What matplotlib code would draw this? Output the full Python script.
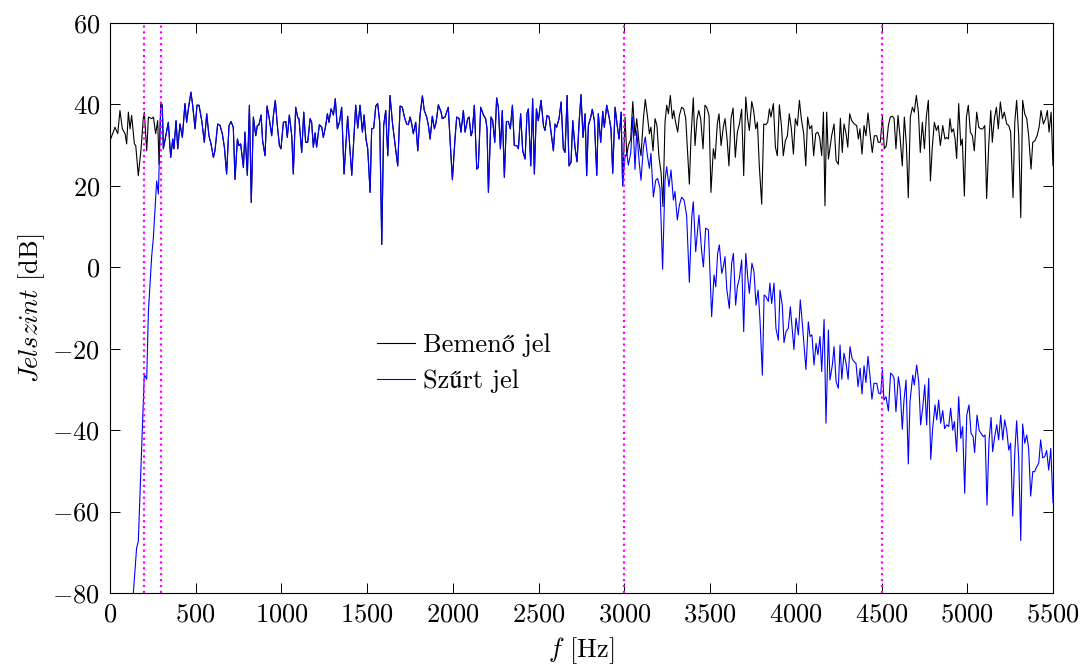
import matplotlib
matplotlib.use("Agg")
import matplotlib.pyplot as plt

plt.rcParams['font.family'] = ['cmr10', 'STIXGeneral']
plt.rcParams['mathtext.fontset'] = 'cm'
plt.rcParams['axes.formatter.use_mathtext'] = True
plt.rcParams['font.size'] = 19

# bemeno jel, also sav (0 - 305 Hz)
f_also_be = [0, 19, 29, 45, 58, 72, 88, 97, 107, 117, 126, 142, 150, 165, 181, 194, 200, 214, 224,
             243, 253, 266, 278, 286, 296, 305]
jel_also_be = [31.1, 33.2, 34.4, 32.8, 38.5, 34.0, 32.8, 30.3, 38.1, 34.0, 37.3, 30.3, 29.9, 22.5,
               29.1, 36.5, 38.1, 28.6, 36.9, 36.5, 36.9, 32.8, 36.0, 25.3, 40.6, 39.8]

# szurt jel, also sav
f_also_sz = [0, 120, 136, 155, 165, 200, 214, 224, 243, 253, 272, 282, 296, 305]
jel_also_sz = [-100, -90, -80, -69.0, -67.3, -26.3, -27.5, -10.7, 2.7, 7.3, 21.2, 18.0, 39.3, 39.8]

# attereszto sav: a ket jel egybeesik (311 - 2990 Hz)
f_kozos = [311, 325, 340, 354, 366, 373, 385, 395, 408, 422, 437, 447, 457, 472, 482, 496, 507, 519,
           535, 550, 564, 577, 589, 603, 612, 628, 642, 655, 667,
           680, 694, 706, 719, 729, 743, 752, 762, 778, 787, 801, 813, 824, 836, 850, 859, 869, 881,
           890, 904, 916, 929, 943, 953, 964, 976, 988, 997, 1011, 1025, 1034, 1046, 1060, 1069,
           1083, 1095, 1102, 1118, 1130, 1141, 1153, 1167, 1176, 1186, 1196, 1205, 1221, 1235, 1244,
           1258, 1268, 1277, 1289, 1303, 1314, 1326, 1338, 1351, 1365,
           1386, 1410, 1433, 1445, 1458, 1472, 1482, 1493, 1503, 1517, 1526, 1538, 1550, 1561, 1573,
           1585, 1596, 1608, 1620, 1633, 1647, 1662, 1678, 1692, 1705, 1717, 1730, 1740, 1750, 1760,
           1769, 1783, 1795, 1808, 1822, 1833, 1847, 1857, 1867, 1880, 1892, 1902, 1915, 1931, 1938,
           1954, 1973, 1983, 1997, 2012, 2022, 2036, 2047, 2061,
           2071, 2086, 2094, 2106, 2113, 2125, 2139, 2148, 2162, 2178, 2191, 2199, 2207, 2222, 2232,
           2244, 2255, 2265, 2277, 2288, 2300, 2312, 2323, 2335, 2347, 2358, 2372, 2382, 2395, 2407,
           2421, 2432, 2440, 2454, 2465, 2475, 2487, 2498, 2514, 2528, 2537, 2549, 2561, 2572, 2586,
           2596, 2605, 2619, 2631, 2644, 2654, 2666, 2677, 2689, 2699, 2712, 2724, 2736, 2747, 2759,
           2771, 2780, 2790, 2804, 2813, 2825, 2839, 2848, 2862, 2874, 2883, 2897, 2911, 2922, 2932,
           2946, 2957, 2969, 2981, 2990]
jel_kozos = [29.1, 32.3, 35.6, 27.0, 31.5, 29.1, 36.0, 29.1, 35.2, 31.9, 40.2, 35.6, 38.9, 43.0,
             39.8, 34.0, 39.8, 39.8, 36.0, 30.7, 37.7, 32.3, 30.3, 27.0, 28.6, 35.2, 34.8, 32.8, 29.5,
             22.9, 34.8, 35.8, 34.4, 21.6, 31.5, 29.9, 30.3, 24.5, 33.2, 22.6, 39.8, 15.9, 36.9, 32.3,
             34.8, 35.0, 37.4, 31.1, 27.4, 39.6, 36.5, 32.3, 37.3, 41.0, 34.8, 29.9, 29.1, 35.6, 35.8,
             31.9, 37.4, 32.3, 22.9, 39.3, 36.7, 36.5, 28.2, 38.1, 30.7, 30.7, 36.5, 35.6, 29.5, 33.0,
             29.5, 35.0, 34.4, 31.9, 34.8, 37.7, 35.6, 38.9, 37.4, 41.4, 34.0, 35.6, 39.3, 22.9,
             37.1, 22.6, 39.8, 34.2, 39.8, 33.2, 37.4, 31.5, 29.1, 18.4, 34.0, 34.2, 39.6, 40.2, 35.6,
             5.6, 34.8, 38.5, 27.4, 42.2, 35.6, 30.3, 24.9, 39.6, 39.3, 36.9, 35.2, 35.0, 36.9, 35.2,
             32.8, 35.6, 28.6, 37.3, 42.1, 38.5, 36.9, 34.8, 31.5, 37.1, 34.0, 35.6, 39.9, 38.1, 36.5,
             36.9, 39.3, 31.5, 21.5, 31.5, 36.9, 36.5, 33.2, 38.5,
             33.2, 36.5, 36.9, 32.3, 33.3, 39.8, 24.1, 24.5, 39.3, 37.4, 36.5, 34.0, 18.4, 36.9, 36.0,
             30.7, 41.6, 39.3, 29.1, 38.5, 22.1, 35.8, 35.8, 34.0, 39.8, 29.9, 29.9, 29.1, 37.7, 28.6,
             26.6, 37.7, 38.9, 24.9, 41.4, 22.9, 38.9, 36.0, 41.0, 34.8, 33.6, 37.3, 36.9, 33.2, 28.6,
             35.2, 34.4, 36.5, 40.6, 29.1, 28.2, 42.2, 24.9, 25.8, 36.0, 29.5, 25.9, 35.6, 42.4, 31.9,
             37.7, 22.5, 34.8, 36.9, 38.8, 36.0, 22.6, 37.7, 30.7, 38.3, 34.4, 39.8, 36.9, 34.0, 23.1,
             39.3, 35.2, 31.5, 38.1, 20.0]

# bemeno jel, felso sav (3004 - 5500 Hz)
f_felso_be = [3004, 3014, 3023, 3037, 3049, 3062, 3072, 3086, 3097, 3111, 3122, 3134, 3146, 3155,
              3167, 3179, 3190, 3202, 3214, 3225, 3237, 3247, 3257, 3268, 3280, 3288, 3299, 3311,
              3321, 3334, 3346, 3358, 3369, 3379, 3389, 3402, 3412, 3424, 3434, 3445, 3459, 3470,
              3480, 3494, 3505, 3519, 3529, 3542, 3552, 3564, 3577, 3587, 3599, 3610, 3622, 3634,
              3647, 3659, 3671, 3684, 3696, 3708, 3719, 3729, 3743, 3754, 3766, 3776, 3787, 3801,
              3813, 3824, 3836, 3846, 3855, 3869, 3881, 3892, 3904, 3916, 3927, 3939, 3951, 3962,
              3974, 3986, 3997, 4009, 4021, 4032, 4046, 4058, 4069, 4081, 4093, 4104, 4116, 4128,
              4139, 4151, 4161,
              4170, 4180, 4190, 4200, 4209, 4223, 4235, 4248, 4260, 4271, 4281, 4293, 4303, 4314,
              4326, 4341, 4355, 4365, 4374, 4386, 4398, 4409, 4421, 4433, 4446, 4458, 4472, 4481,
              4493, 4505, 4516, 4528, 4540, 4551, 4563, 4573, 4584, 4596, 4608, 4621, 4633, 4645,
              4656, 4668, 4680, 4691, 4703, 4715, 4726, 4738, 4750, 4761, 4773, 4785, 4796, 4808,
              4820, 4831, 4843, 4857, 4870,
              4880, 4890, 4899, 4909, 4919, 4929, 4938, 4950, 4962, 4971, 4983, 4995, 5006, 5018,
              5030, 5041, 5055, 5067, 5078, 5090, 5102, 5113, 5125, 5137, 5146, 5158, 5170, 5181,
              5193, 5205, 5216, 5230, 5242, 5253, 5267, 5277, 5288, 5300, 5312, 5323, 5335, 5347,
              5358, 5372, 5382, 5395, 5407, 5419, 5430, 5444, 5457, 5467, 5477, 5489, 5500]
jel_felso_be = [36.9, 27.4, 29.9, 31.5, 40.7, 32.3, 36.5, 30.3, 27.4, 36.5, 41.2, 37.3, 32.8, 34.4,
                28.6, 36.5, 34.8, 27.0, 23.3, 14.9, 35.6, 39.8, 37.7, 42.2, 36.5, 38.5, 35.6, 33.2,
                37.3, 39.3, 38.9, 36.5, 28.2, 20.4, 32.3, 41.6, 29.9, 36.5, 38.5, 36.5, 29.1, 39.8,
                39.3, 37.3, 18.4, 29.1, 26.6, 35.2, 37.7, 29.9, 34.4, 36.5, 31.5, 24.9, 36.5, 39.1,
                27.0, 33.2, 35.2, 38.8, 22.5, 41.8, 36.5, 33.6, 40.7, 38.5, 34.0, 35.6, 24.9, 15.5,
                35.2, 35.0, 35.6, 38.9, 36.9, 40.2, 29.5, 27.4, 39.9, 34.8, 27.4, 31.1, 32.3, 37.7,
                34.0, 27.8, 36.5, 34.8, 41.0, 36.5, 32.8, 24.9, 36.9, 34.0, 34.8, 27.4, 32.8, 33.2,
                31.9, 27.4, 38.1,
                15.1, 38.1, 26.6, 29.5, 32.3, 35.2, 26.2, 25.3, 36.6, 28.2, 35.2, 32.8, 29.5, 37.7,
                36.0, 35.2, 34.8, 31.5, 34.0, 27.8, 34.8, 32.3, 37.9, 32.8, 28.2, 32.3, 32.3, 30.7,
                30.7, 37.1, 29.1, 29.9, 34.8, 36.9, 37.1, 36.5, 29.1, 37.3, 31.9, 24.9, 36.9, 29.9,
                17.1, 36.9, 39.3, 38.1, 42.2, 38.1, 28.2, 35.6, 29.1, 36.9, 41.0, 21.2, 29.5, 35.6,
                33.6, 34.8, 29.9, 34.8, 31.5,
                31.9, 31.5, 36.5, 33.2, 34.0, 31.5, 26.7, 40.2, 29.9, 31.5, 17.5, 36.9, 39.8, 33.2,
                32.3, 28.6, 38.1, 34.4, 34.0, 34.0, 34.8, 16.9, 29.9, 38.5, 30.7, 36.5, 39.3, 34.0,
                40.6, 36.5, 38.1, 35.2, 34.8, 33.2, 17.1, 35.6, 41.0, 32.3, 12.2, 41.0, 37.7, 36.5,
                32.3, 24.1, 30.7, 31.1, 32.3, 34.4, 38.5, 35.2, 36.5, 38.5, 33.2, 38.1, 24.9]

# szurt jel, felso sav
f_felso_sz = [3004, 3014, 3023, 3037, 3049, 3062, 3072, 3086, 3097, 3111, 3122, 3134, 3146, 3155,
              3169, 3183, 3194, 3208, 3223, 3237, 3247, 3260, 3272, 3286, 3295, 3309, 3321, 3334,
              3348, 3363, 3379, 3393, 3402, 3416, 3435, 3451, 3461, 3474, 3490, 3509, 3523, 3533,
              3544, 3554, 3568, 3577, 3587, 3597, 3612, 3626, 3636, 3649, 3659, 3671, 3684, 3696,
              3708, 3719, 3729, 3744, 3756, 3768, 3780, 3791, 3805, 3815, 3826, 3840, 3849, 3859,
              3873, 3884, 3898, 3908, 3921, 3931, 3943, 3956, 3968, 3978, 3989, 4001, 4015, 4026,
              4038, 4050, 4059, 4073, 4083, 4094, 4106, 4118, 4129, 4141, 4151, 4165, 4176, 4190,
              4199, 4213, 4223, 4235, 4248, 4258,
              4268, 4281, 4293, 4305, 4316, 4328, 4340, 4351, 4363, 4375, 4386, 4398, 4409, 4421,
              4433, 4444, 4456, 4472, 4483, 4495, 4505, 4514, 4526, 4540, 4553, 4565, 4573, 4584,
              4598, 4608, 4621, 4631, 4643, 4656, 4666, 4682, 4691, 4705, 4717, 4728, 4740, 4752,
              4763, 4775, 4787, 4798, 4812, 4822, 4833, 4845, 4857, 4868, 4880, 4892, 4903, 4915,
              4925, 4938, 4950, 4962, 4973, 4985, 4997, 5010, 5022, 5034, 5043, 5057, 5069, 5080,
              5094, 5104, 5115, 5127, 5139, 5148, 5160, 5172, 5183, 5195, 5207, 5218, 5230, 5242,
              5253, 5265, 5277, 5288, 5300, 5312, 5323, 5335, 5347, 5358, 5370, 5382, 5393, 5405,
              5417, 5428, 5440, 5452, 5463, 5475, 5487, 5500]
jel_felso_sz = [27.2, 28.0, 25.1, 28.0, 37.0, 24.0, 33.5, 26.0, 21.4, 29.5, 32.0, 27.5, 24.3, 28.0,
                17.3, 21.4, 21.8, 19.4, -0.5, 21.4, 24.7, 19.8, 23.9, 16.5, 18.6, 11.6, 15.3, 17.2,
                16.5, 12.8, -3.7, 12.4, 16.1, 3.8, 12.8, 3.8, 0.1, 9.6, 9.2, -12.1, -1.9, -4.8,
                3.4, 5.5, -1.5, 0.1, 2.6, -5.2, -10.1, 1.0, 3.4, -9.3, -4.8, -2.7, 1.8, -15.8,
                3.4, -2.3, -6.4, 1.0, -1.1, -9.3, -5.6, -12.9, -26.5, -6.8, -7.2, -8.4, -3.9, -8.9,
                -3.9, -15.0, -17.9, -5.6, -9.3, -18.5, -15.8, -15.0, -9.7, -14.6, -20.2, -12.5,
                -16.6, -8.0, -13.8, -20.3, -25.1, -13.4, -17.0, -16.6, -24.0, -18.7, -21.5, -17.0,
                -25.6, -12.8, -38.3, -15.4, -27.7, -24.0, -19.5, -28.1, -29.7, -19.1,
                -27.5, -21.1, -23.6, -27.5, -19.5, -22.4, -23.2, -23.6, -29.3, -24.8, -31.1, -24.2,
                -28.3, -21.9, -26.9, -32.4, -28.5, -28.5, -30.9, -31.1, -25.2, -32.6, -31.8, -35.3,
                -26.0, -26.5, -27.3, -35.5, -26.9, -29.7, -39.8, -32.6, -27.7, -48.3, -33.0, -26.5,
                -28.9, -24.0, -28.1, -38.7, -34.6, -28.9, -38.7, -27.3, -47.2, -39.6, -33.8, -37.5,
                -32.6, -38.3, -35.2, -39.6, -38.7, -39.1, -34.6, -40.0, -37.9, -45.3, -31.8, -42.0,
                -39.1, -55.5, -36.3, -33.8, -40.8, -41.6, -45.5, -36.3, -40.0, -40.8, -41.6, -41.2,
                -58.4, -42.4, -36.9, -45.3, -41.6, -38.7, -42.4, -36.3, -42.4, -37.5, -40.0, -44.9,
                -43.2, -61.1, -45.7, -37.7, -46.9, -67.1, -38.5, -43.2, -41.2, -44.5, -56.2, -50.2,
                -50.2, -49.0, -48.1, -42.4, -46.8, -46.5, -45.0, -49.8, -44.5, -57.8]

# sav hatarok
hatarok = [200, 300, 3000, 4500]

f_be = f_also_be + f_kozos + f_felso_be
jel_be = jel_also_be + jel_kozos + jel_felso_be
f_sz = f_also_sz + f_kozos + f_felso_sz
jel_sz = jel_also_sz + jel_kozos + jel_felso_sz

fig = plt.figure(figsize=(10.85, 6.66), dpi=100)
ax = fig.add_axes([0.1014, 0.1096, 0.8691, 0.8559])

ax.plot(f_be, jel_be, color='black', lw=0.8, label='Bemenő jel')
ax.plot(f_sz, jel_sz, color='blue', lw=0.8, label='Szűrt jel')
for h in hatarok:
    ax.axvline(h, color='magenta', ls=':', lw=1.6)

ax.set_xlim(0, 5500)
ax.set_ylim(-80, 60)
ax.set_xticks(range(0, 5501, 500))
ax.set_yticks(range(-80, 61, 20))
ax.tick_params(direction='in', top=True, right=True, length=7, width=0.7, pad=7)
for s in ax.spines.values():
    s.set_linewidth(0.8)

ax.set_xlabel('$f$ [Hz]', labelpad=6)
ax.set_ylabel('$Jelszint$ [dB]', labelpad=4)
ax.legend(loc='upper left', bbox_to_anchor=(0.283, 0.455), frameon=False, borderpad=0,
          borderaxespad=0, handlelength=1.45, handletextpad=0.3, labelspacing=0.45)

fig.savefig('out.png', dpi=100)
